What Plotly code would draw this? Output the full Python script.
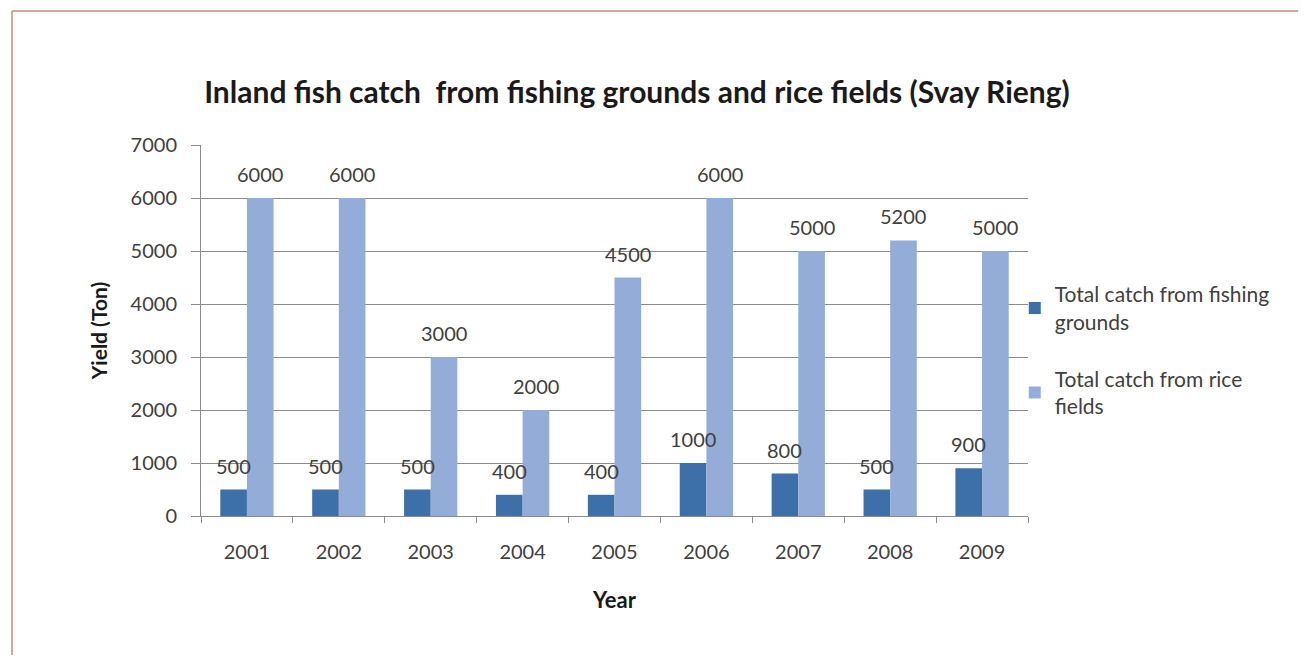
import plotly.graph_objects as go

years = ["2001", "2002", "2003", "2004", "2005", "2006", "2007", "2008", "2009"]
fishing_grounds = [500, 500, 500, 400, 400, 1000, 800, 500, 900]
rice_fields = [6000, 6000, 3000, 2000, 4500, 6000, 5000, 5200, 5000]
series_names = ["Total catch from fishing<br>grounds", "Total catch from rice<br>fields"]
y_ticks = [0, 1000, 2000, 3000, 4000, 5000, 6000, 7000]

# page body has an 8px margin, so the figure sits at (8, 8)
W, H = 1290, 647
ML, MT = 193, 137
PR, PB = 1020, 508
MR, MB = W - PR, H - PB
PW = PR - ML
PH = PB - MT

FONT = "Lato"
TXT = "#404040"
BARGAP = 0.42

fig = go.Figure()
fig.add_trace(go.Bar(x=years, y=fishing_grounds, name=series_names[0],
                     marker=dict(color="#3d6fa8", line=dict(width=0)),
                     legendgroup="a"))
fig.add_trace(go.Bar(x=years, y=rice_fields, name=series_names[1],
                     marker=dict(color="#93add8", line=dict(width=0)),
                     legendgroup="b"))

cat_w = PW / len(years)
bar_w = cat_w * (1 - BARGAP) / 2
for vals, sx in ((fishing_grounds, -bar_w / 2), (rice_fields, bar_w / 2)):
    for i, v in enumerate(vals):
        fig.add_annotation(x=i, y=v, text=str(v), showarrow=False,
                           xref="x", yref="y", xshift=sx, yshift=24,
                           font=dict(family=FONT, size=20, color=TXT))

# outer border (top and left edges visible)
bx = (4 - ML) / PW
by = (PB - 3) / PH
border = "#c48a80"
fig.add_shape(type="line", xref="paper", yref="paper", x0=bx, x1=1.5, y0=by, y1=by,
              line=dict(color=border, width=1.5))
fig.add_shape(type="line", xref="paper", yref="paper", x0=bx, x1=bx, y0=by, y1=-0.5,
              line=dict(color=border, width=1.5))

fig.update_layout(
    width=W, height=H,
    margin=dict(l=ML, r=MR, t=MT, b=MB),
    paper_bgcolor="white", plot_bgcolor="white",
    barmode="group", bargap=BARGAP, bargroupgap=0,
    title=dict(text="<b>Inland fish catch  from fishing grounds and rice fields (Svay Rieng)</b>",
               x=629 / W, xanchor="center", y=1 - 84 / H, yanchor="middle",
               font=dict(family=FONT, size=30, color="#1a1a1a")),
    font=dict(family=FONT, color=TXT),
    showlegend=True,
    legend=dict(x=0.984, xanchor="left", y=0.652, yanchor="top",
                traceorder="grouped", tracegroupgap=27,
                font=dict(family=FONT, size=21, color=TXT),
                bgcolor="rgba(0,0,0,0)", itemwidth=30),
    xaxis=dict(
        type="category",
        showline=True, linecolor="#8c8c8c", linewidth=1,
        ticks="outside", tickson="boundaries", ticklen=6, tickcolor="#8c8c8c",
        ticklabelstandoff=18,
        tickfont=dict(family=FONT, size=20, color=TXT),
        title=dict(text="<b>Year</b>", font=dict(family=FONT, size=22, color="#1a1a1a"), standoff=30),
        showgrid=False,
    ),
    yaxis=dict(
        range=[0, 7000], tickvals=y_ticks,
        showline=True, linecolor="#8c8c8c", linewidth=1,
        ticks="outside", ticklen=9, tickcolor="#8c8c8c",
        ticklabelstandoff=10,
        showgrid=True, gridcolor="#8c8c8c", gridwidth=1,
        zeroline=False,
        tickfont=dict(family=FONT, size=20, color=TXT),
        title=dict(text="<b>Yield (Ton)</b>", font=dict(family=FONT, size=21, color="#1a1a1a"), standoff=17),
    ),
)

fig.write_html("out.html")
